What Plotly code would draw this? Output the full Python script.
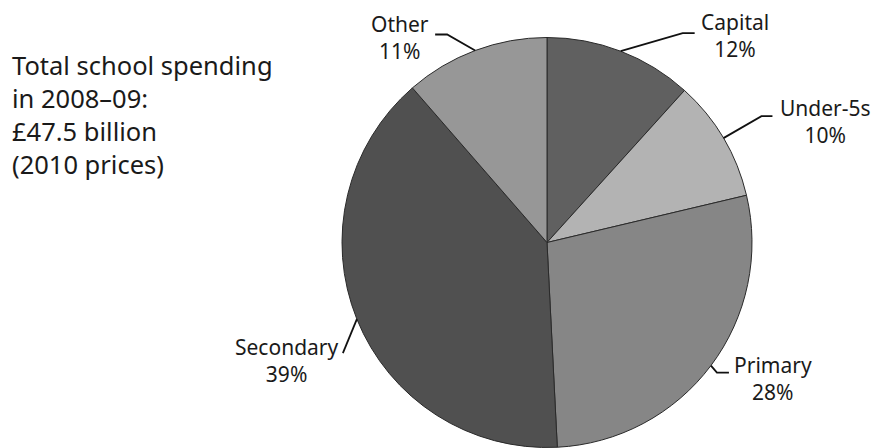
import math
import plotly.graph_objects as go

# ---- data ----
categories = ["Capital", "Under-5s", "Primary", "Secondary", "Other"]
shares = [11.7, 9.6, 27.9, 39.4, 11.4]
colors = ["#606060", "#b3b3b3", "#868686", "#505050", "#979797"]
note_lines = ["Total school spending", "in 2008–09:", "£47.5 billion", "(2010 prices)"]

# ---- layout / style ----
W, H = 875, 448
CX, CY, R = 547, 242.5, 205
FONT = "Noto Sans"
TXT = "#1a1a1a"
# leader/label offsets from slice edge point (pixels): elbow, end, label centre
leader_style = {
    "Capital":   dict(elbow=(62, -18), end=(74, -18), label=(114, -16)),
    "Under-5s":  dict(elbow=(38, -22), end=(49, -22), label=(102, -17)),
    "Primary":   dict(elbow=(6, 7), end=(18, 7), label=(62, 13)),
    "Secondary": dict(elbow=(-14, 34), end=(-14, 34), label=(-70, 41)),
    "Other":     dict(elbow=(-28, -16), end=(-40, -16), label=(-75, -13)),
}

def px(x):
    return x / W

def py(y):
    return 1 - y / H

fig = go.Figure(go.Pie(
    labels=categories,
    values=shares,
    sort=False,
    direction="clockwise",
    rotation=0,
    marker=dict(colors=colors, line=dict(color="#2a2a2a", width=1)),
    textinfo="none",
    hoverinfo="label+percent",
    domain=dict(x=[px(CX - R), px(CX + R)], y=[py(CY + R), py(CY - R)]),
    showlegend=False,
))

total = sum(shares)
cum = 0.0
shapes = []
annotations = []
for cat, v in zip(categories, shares):
    mid = (cum + v / 2) / total * 2 * math.pi
    cum += v
    ex = CX + R * math.sin(mid)
    ey = CY - R * math.cos(mid)
    st = leader_style[cat]
    pts = [(ex, ey), (ex + st["elbow"][0], ey + st["elbow"][1]), (ex + st["end"][0], ey + st["end"][1])]
    path = "M {} {} L {} {} L {} {}".format(
        px(pts[0][0]), py(pts[0][1]), px(pts[1][0]), py(pts[1][1]), px(pts[2][0]), py(pts[2][1]))
    shapes.append(dict(type="path", xref="paper", yref="paper", path=path,
                       line=dict(color="#111111", width=1.8)))
    pct = round(v / total * 100)
    annotations.append(dict(
        x=px(ex + st["label"][0]), y=py(ey + st["label"][1]), xref="paper", yref="paper",
        text=f"{cat}<br>{pct}%", showarrow=False, align="center",
        xanchor="center", yanchor="middle",
        font=dict(family=FONT, size=21, color=TXT)))

annotations.append(dict(
    x=px(10), y=py(114), xref="paper", yref="paper",
    text="<br>".join(note_lines), showarrow=False, align="left",
    xanchor="left", yanchor="middle",
    font=dict(family=FONT, size=25.5, color=TXT)))

fig.update_layout(
    width=W, height=H,
    margin=dict(l=0, r=0, t=0, b=0),
    paper_bgcolor="white", plot_bgcolor="white",
    shapes=shapes, annotations=annotations,
)

fig.write_html("out.html", config={"displayModeBar": False},
               post_script="document.body.style.margin='0';")
